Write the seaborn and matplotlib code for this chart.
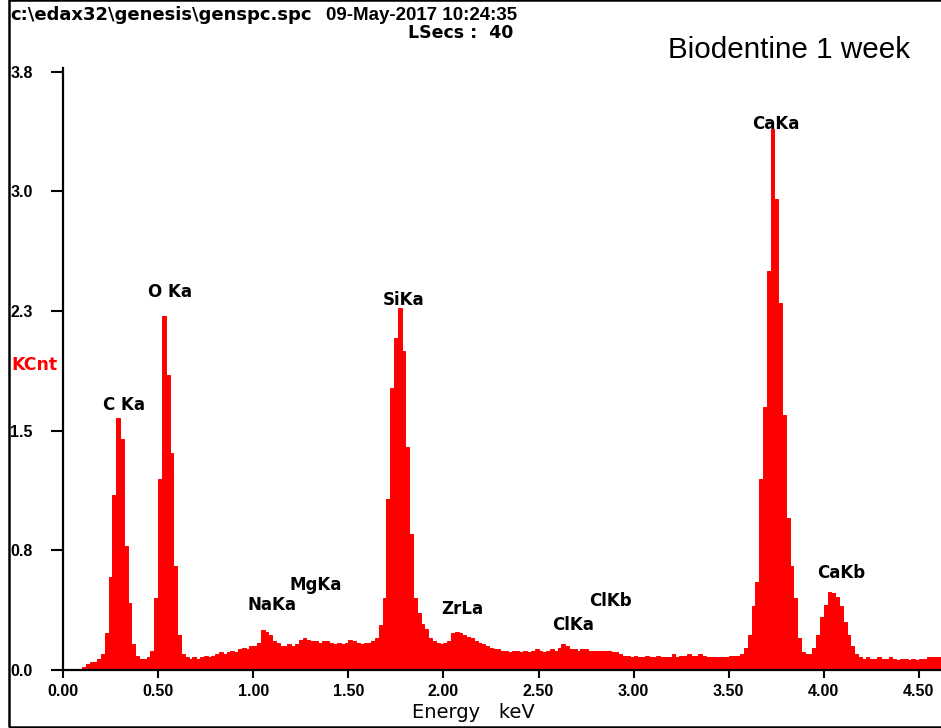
import numpy as np
import pandas as pd
import matplotlib
matplotlib.use("Agg")
import matplotlib.pyplot as plt
from matplotlib.patches import Rectangle
import seaborn as sns

# EDS spectrum, 0.02 keV per channel, counts in KCnt
channel_kev = 0.02
counts = [
    # 0.00 - 0.18
    0, 0, 0, 0, 0, 0.02, 0.04, 0.05, 0.05, 0.07,
    # 0.20 - 0.38  (C Ka)
    0.10, 0.23, 0.58, 1.10, 1.58, 1.45, 0.78, 0.42, 0.16, 0.09,
    # 0.40 - 0.58  (O Ka)
    0.07, 0.07, 0.08, 0.12, 0.45, 1.20, 2.22, 1.85, 1.36, 0.65,
    # 0.60 - 0.78
    0.22, 0.10, 0.08, 0.07, 0.08, 0.07, 0.08, 0.09, 0.08, 0.09,
    # 0.80 - 0.98
    0.10, 0.11, 0.10, 0.11, 0.12, 0.11, 0.13, 0.14, 0.13, 0.15,
    # 1.00 - 1.18  (Na Ka)
    0.15, 0.17, 0.25, 0.24, 0.22, 0.18, 0.17, 0.15, 0.15, 0.16,
    # 1.20 - 1.38  (Mg Ka)
    0.15, 0.16, 0.19, 0.20, 0.19, 0.18, 0.18, 0.17, 0.18, 0.18,
    # 1.40 - 1.58
    0.17, 0.16, 0.17, 0.16, 0.17, 0.19, 0.18, 0.17, 0.16, 0.17,
    # 1.60 - 1.78  (Si Ka)
    0.17, 0.18, 0.20, 0.28, 0.45, 1.07, 1.77, 2.08, 2.27, 2.00,
    # 1.80 - 1.98
    1.40, 0.85, 0.45, 0.36, 0.29, 0.26, 0.20, 0.18, 0.17, 0.16,
    # 2.00 - 2.18  (Zr La)
    0.17, 0.18, 0.23, 0.24, 0.23, 0.22, 0.21, 0.20, 0.18, 0.17,
    # 2.20 - 2.38
    0.16, 0.15, 0.14, 0.13, 0.13, 0.12, 0.12, 0.11, 0.12, 0.12,
    # 2.40 - 2.58
    0.11, 0.12, 0.11, 0.12, 0.13, 0.12, 0.11, 0.12, 0.13, 0.12,
    # 2.60 - 2.78  (Cl Ka)
    0.14, 0.16, 0.15, 0.13, 0.13, 0.12, 0.13, 0.13, 0.12, 0.12,
    # 2.80 - 2.98  (Cl Kb)
    0.12, 0.12, 0.12, 0.12, 0.11, 0.11, 0.10, 0.09, 0.09, 0.08,
    # 3.00 - 3.18
    0.09, 0.08, 0.08, 0.09, 0.08, 0.08, 0.09, 0.08, 0.08, 0.08,
    # 3.20 - 3.38
    0.10, 0.08, 0.09, 0.09, 0.10, 0.09, 0.09, 0.10, 0.09, 0.08,
    # 3.40 - 3.58
    0.08, 0.08, 0.08, 0.08, 0.08, 0.09, 0.09, 0.09, 0.10, 0.14,
    # 3.60 - 3.78  (Ca Ka)
    0.22, 0.40, 0.55, 1.20, 1.65, 2.50, 3.39, 2.95, 2.30, 1.60,
    # 3.80 - 3.98
    0.95, 0.65, 0.45, 0.20, 0.11, 0.10, 0.10, 0.14, 0.22, 0.33,
    # 4.00 - 4.18  (Ca Kb)
    0.41, 0.49, 0.48, 0.46, 0.40, 0.30, 0.22, 0.15, 0.10, 0.08,
    # 4.20 - 4.38
    0.07, 0.08, 0.07, 0.07, 0.08, 0.07, 0.07, 0.08, 0.07, 0.06,
    # 4.40 - 4.60
    0.07, 0.07, 0.06, 0.07, 0.06, 0.07, 0.07, 0.08, 0.08, 0.08,
    0.08,
]

peak_names = ["C Ka", "O Ka", "NaKa", "MgKa", "SiKa", "ZrLa",
              "ClKa", "ClKb", "CaKa", "CaKb"]
peak_label_pos = [(0.32, 1.66), (0.56, 2.37), (1.10, 0.41), (1.33, 0.53),
                  (1.79, 2.32), (2.10, 0.38), (2.68, 0.28), (2.88, 0.43),
                  (3.75, 3.42), (4.09, 0.61)]

y_ticks = [0, 0.75, 1.5, 2.25, 3.0, 3.75]
y_tick_labels = ["0.0", "0.8", "1.5", "2.3", "3.0", "3.8"]
x_ticks = [0, 0.5, 1.0, 1.5, 2.0, 2.5, 3.0, 3.5, 4.0, 4.5]
x_tick_labels = ["0.00", "0.50", "1.00", "1.50", "2.00",
                 "2.50", "3.00", "3.50", "4.00", "4.50"]

n_chan = len(counts)
spectrum = pd.DataFrame({
    'energy': (np.arange(n_chan) + 0.5) * channel_kev,
    'kcnt': counts,
})

sns.set_style("white")
plt.rcParams['font.family'] = ['Liberation Sans', 'DejaVu Sans']
# seaborn greys the text, the original is plain black
plt.rcParams['text.color'] = 'black'
plt.rcParams['axes.labelcolor'] = 'black'
plt.rcParams['xtick.color'] = 'black'
plt.rcParams['ytick.color'] = 'black'
BOLD_WIDE = ['DejaVu Sans']

W, H = 941, 728
fig = plt.figure(figsize=(W / 100, H / 100), dpi=100, facecolor='white')
ax = fig.add_axes([63 / W, 58 / H, (W - 63) / W, 602 / H])

# spectrum as red filled histogram
sns.histplot(data=spectrum, x='energy', weights='kcnt', bins=n_chan,
             binrange=(0, n_chan * channel_kev), element='bars', fill=True,
             color='#ff0000', alpha=1, edgecolor='#ff0000', linewidth=0.7,
             ax=ax)

ax.set_xlim(0, 4.616)
ax.set_ylim(0, 3.774)
ax.set_ylabel('')
ax.set_xlabel('Energy   keV', fontsize=14, family=BOLD_WIDE)
ax.xaxis.set_label_coords((473.5 - 63) / (W - 63), (25 - 58) / 602)

ax.set_xticks(x_ticks)
ax.set_xticklabels(x_tick_labels, fontsize=11.5, fontweight='bold')
ax.set_yticks(y_ticks)
ax.set_yticklabels(y_tick_labels, fontsize=11.5, fontweight='bold', ha='left')
ax.tick_params(axis='x', direction='out', length=6, width=1.5, pad=4,
               bottom=True)
ax.tick_params(axis='y', direction='out', length=9, width=1.5, pad=29,
               left=True)

for side in ['top', 'right']:
    ax.spines[side].set_visible(False)
for side in ['left', 'bottom']:
    ax.spines[side].set_linewidth(1.6)
    ax.spines[side].set_color('black')

for name, (lx, ly) in zip(peak_names, peak_label_pos):
    ax.text(lx, ly, name, ha='center', va='center', fontsize=12,
            fontweight='bold', family=BOLD_WIDE, color='black')

# header texts
fig.text(10 / W, 1 - 15 / H, 'c:\\edax32\\genesis\\genspc.spc',
         ha='left', va='center', fontsize=13, fontweight='bold',
         family=BOLD_WIDE)
fig.text(326 / W, 1 - 15 / H, '09-May-2017 10:24:35',
         ha='left', va='center', fontsize=13.5, fontweight='bold')
fig.text(408 / W, 1 - 33 / H, 'LSecs :  40', ha='left', va='center',
         fontsize=12.5, fontweight='bold', family=BOLD_WIDE)
fig.text(668 / W, 1 - 50 / H, 'Biodentine 1 week', ha='left', va='center',
         fontsize=21.3, color='black')
fig.text(11 / W, 1 - 365 / H, 'KCnt', ha='left', va='center',
         fontsize=12.5, fontweight='bold', family=BOLD_WIDE, color='#ff0000')

# frame round the picture
fig.add_artist(Rectangle((8.5 / W, 1.5 / H), 1, 1 - 1.5 / H,
                         transform=fig.transFigure, fill=False,
                         edgecolor='black', linewidth=1.8))

plt.savefig('out.png', dpi=100)
